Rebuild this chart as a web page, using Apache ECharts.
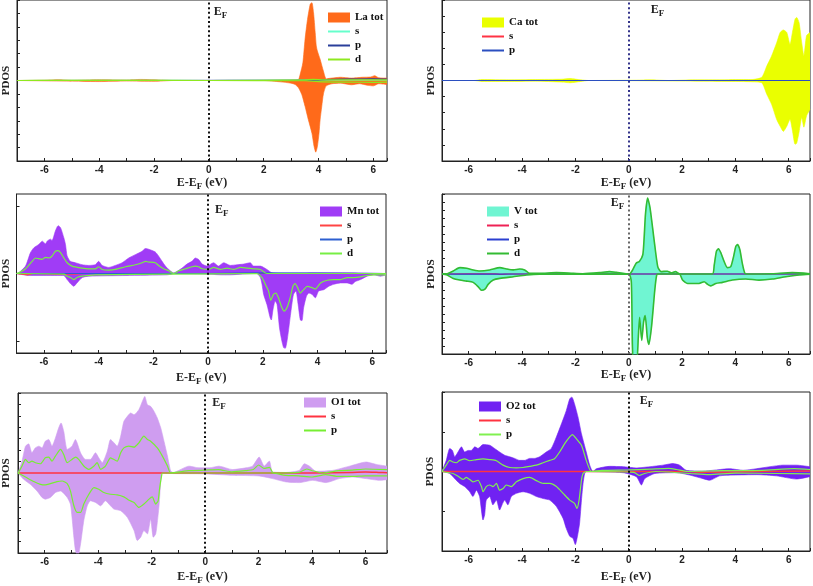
<!DOCTYPE html>
<html><head><meta charset="utf-8">
<script src="https://cdn.jsdelivr.net/npm/echarts@6/dist/echarts.min.js"></script>
<style>html,body{margin:0;padding:0;background:#fff}#c{width:813px;height:586px}</style>
</head><body><div id="c"></div>
<script>
// ---------- La ----------
const laTotUp = [[-7,0],[-6,0.01],[-5.5,0.03],[-5,0.01],[-4,0.03],[-3,0.02],[-2.5,0.04],[-2,0.03],[-1.3,0],[2.5,0],[3.0,0.01],[3.27,0.04],[3.33,0.22],[3.43,0.66],[3.51,1.54],[3.6,2.28],[3.7,2.85],[3.76,2.9],[3.82,2.53],[3.88,1.79],[3.92,1.29],[3.96,1.1],[4.06,0.79],[4.18,0.35],[4.28,0.06],[4.4,0.08],[4.8,0.12],[5.2,0.09],[5.6,0.12],[5.9,0.13],[6.05,0.18],[6.2,0.1],[6.5,0.09]];
const laTotDn = [[-7,0],[-5.5,-0.02],[-4,-0.04],[-3,-0.02],[-2,-0.03],[-1.3,0],[2.0,0],[2.6,-0.05],[3.0,-0.1],[3.15,-0.15],[3.27,-0.27],[3.39,-0.52],[3.51,-0.96],[3.63,-1.46],[3.76,-1.96],[3.84,-2.46],[3.9,-2.67],[3.96,-2.46],[4.02,-1.96],[4.06,-1.46],[4.12,-0.96],[4.18,-0.5],[4.28,-0.2],[4.5,-0.12],[4.8,-0.1],[5.2,-0.16],[5.5,-0.12],[5.8,-0.18],[6.0,-0.2],[6.2,-0.12],[6.5,-0.15]];
const laS = [[-7,0],[-3,0.01],[0,0],[4,0.02],[6.5,0.02]];
const laP = [[-7,0],[-2,0],[3.5,0.01],[4.3,0.03],[5,0.05],[6,0.06],[6.5,0.05]];
const laDUp = [[-7,0],[-5.5,0.01],[-2.5,0.01],[0,0],[3.5,0.02],[3.8,0.04],[4.2,0.02],[5,0.02],[6.5,0.02]];
const laDDn = [[-7,0],[0,0],[3.5,-0.01],[4.2,-0.05],[5,-0.06],[6,-0.07],[6.5,-0.06]];
// ---------- Ca ----------
const caTotUp = [[-7,0],[-5.8,0],[-5.5,0.03],[-4.5,0.02],[-3.5,0.03],[-2.5,0.04],[-2.2,0.06],[-1.8,0.02],[-1.5,0],[0.3,0.01],[0.8,0.02],[1.5,0],[2.5,0.02],[3.5,0.02],[4.0,0.03],[4.62,0.03],[4.99,0.1],[5.18,0.45],[5.36,0.76],[5.55,1.17],[5.68,1.49],[5.8,1.57],[5.93,1.49],[6.05,1.12],[6.14,1.49],[6.24,1.91],[6.3,1.96],[6.39,1.8],[6.49,1.17],[6.57,0.76],[6.67,1.39],[6.8,1.49]];
const caTotDn = [[-7,0],[-5.8,0],[-5.5,-0.03],[-4.5,-0.03],[-3.5,-0.02],[-2.5,-0.05],[-2.2,-0.07],[-1.8,-0.03],[-1.5,0],[2.5,-0.02],[4.0,-0.03],[4.62,-0.04],[4.99,-0.07],[5.18,-0.43],[5.36,-0.74],[5.55,-1.21],[5.68,-1.42],[5.8,-1.58],[5.93,-1.42],[6.05,-1.2],[6.14,-1.55],[6.24,-1.98],[6.3,-1.95],[6.39,-1.6],[6.49,-1.15],[6.57,-1.45],[6.67,-1.1],[6.8,-0.9]];
const caS = [[-7,0],[-3,0],[0,0],[4,0],[6.8,0]];
const caP = [[-7,0],[-3,0],[0,0],[4,0],[6.8,0]];
// ---------- Mn ----------
const mnTotUp = [[-7,0],[-6.92,0.01],[-6.67,0.11],[-6.49,0.31],[-6.37,0.38],[-6.19,0.43],[-6.06,0.48],[-5.94,0.44],[-5.88,0.48],[-5.76,0.51],[-5.7,0.49],[-5.58,0.63],[-5.48,0.71],[-5.39,0.68],[-5.27,0.53],[-5.21,0.43],[-5.15,0.26],[-5.03,0.18],[-4.85,0.16],[-4.6,0.13],[-4.36,0.12],[-4.12,0.13],[-4.0,0.18],[-3.87,0.12],[-3.63,0.09],[-3.39,0.12],[-3.14,0.16],[-2.9,0.23],[-2.66,0.28],[-2.41,0.33],[-2.29,0.37],[-2.17,0.36],[-1.93,0.32],[-1.81,0.26],[-1.68,0.18],[-1.56,0.11],[-1.44,0.06],[-1.26,0.01],[-1.14,0.03],[-0.95,0.08],[-0.77,0.14],[-0.59,0.18],[-0.47,0.23],[-0.35,0.21],[-0.22,0.14],[-0.04,0.11],[0.2,0.16],[0.38,0.11],[0.57,0.16],[0.81,0.12],[1.06,0.13],[1.3,0.14],[1.54,0.16],[1.66,0.11],[1.91,0.11],[2.15,0.06],[2.33,0.01],[2.6,0],[4,0.01],[5,0.01],[6.5,0]];
const mnTotDn = [[-7,0],[-6.9,-0.01],[-6.5,-0.03],[-6,-0.03],[-5.5,-0.03],[-5.27,-0.03],[-5.15,-0.09],[-5.03,-0.15],[-4.91,-0.19],[-4.79,-0.14],[-4.6,-0.06],[-4.36,-0.04],[-3,-0.03],[-1.5,-0.02],[-1.2,0],[0,-0.01],[0.5,-0.02],[0.8,-0.02],[1.2,-0.01],[1.78,0],[1.91,-0.06],[1.97,-0.16],[2.03,-0.31],[2.15,-0.46],[2.21,-0.56],[2.27,-0.66],[2.31,-0.69],[2.37,-0.54],[2.45,-0.41],[2.52,-0.46],[2.61,-0.81],[2.7,-1.01],[2.76,-1.1],[2.82,-1.11],[2.9,-0.96],[2.98,-0.71],[3.06,-0.46],[3.12,-0.31],[3.21,-0.26],[3.29,-0.46],[3.37,-0.69],[3.43,-0.7],[3.49,-0.51],[3.59,-0.34],[3.68,-0.29],[3.8,-0.31],[3.92,-0.36],[4.04,-0.26],[4.23,-0.24],[4.41,-0.19],[4.59,-0.16],[4.84,-0.14],[5.08,-0.14],[5.26,-0.16],[5.38,-0.12],[5.57,-0.09],[5.81,-0.04],[6.06,-0.02],[6.3,-0.04],[6.5,-0.02]];
const mnDUp = [[-7,0],[-6.92,0.01],[-6.67,0.07],[-6.43,0.18],[-6.31,0.23],[-6.19,0.22],[-6.06,0.21],[-5.94,0.24],[-5.82,0.23],[-5.7,0.26],[-5.58,0.33],[-5.48,0.34],[-5.39,0.31],[-5.27,0.23],[-5.15,0.16],[-4.97,0.11],[-4.6,0.08],[-4.36,0.07],[-4.12,0.07],[-4.0,0.1],[-3.87,0.06],[-3.63,0.05],[-3.39,0.06],[-3.02,0.1],[-2.66,0.13],[-2.41,0.16],[-2.29,0.18],[-2.17,0.17],[-1.93,0.16],[-1.81,0.12],[-1.62,0.07],[-1.44,0.04],[-1.26,0],[-1.08,0.04],[-0.83,0.07],[-0.59,0.1],[-0.47,0.11],[-0.35,0.1],[-0.22,0.07],[0.02,0.06],[0.2,0.09],[0.45,0.06],[0.69,0.08],[0.93,0.06],[1.18,0.09],[1.42,0.08],[1.66,0.07],[1.91,0.06],[2.15,0],[6.5,0]];
const mnDDn = [[-7,0],[-5.27,-0.01],[-5.15,-0.04],[-5.03,-0.06],[-4.91,-0.09],[-4.79,-0.06],[-4.6,-0.04],[-4.12,-0.02],[-1.3,-0.01],[1.78,0],[1.97,-0.06],[2.09,-0.16],[2.21,-0.26],[2.29,-0.4],[2.39,-0.31],[2.48,-0.29],[2.57,-0.36],[2.7,-0.51],[2.78,-0.56],[2.88,-0.51],[3.0,-0.36],[3.1,-0.19],[3.18,-0.15],[3.27,-0.21],[3.37,-0.29],[3.49,-0.24],[3.62,-0.19],[3.8,-0.21],[3.92,-0.23],[4.11,-0.14],[4.35,-0.1],[4.59,-0.09],[4.84,-0.09],[5.08,-0.06],[5.32,-0.06],[5.57,-0.05],[5.81,-0.03],[6.06,-0.02],[6.5,-0.02]];
const mnS = [[-7,0],[-6.8,-0.01],[-6.6,-0.02],[-6.4,0],[-5,-0.01],[-4.5,0],[6.5,0]];
const mnP = [[-7,0],[0,0],[2,0.01],[6.5,0]];
// ---------- V ----------
const vTotUp = [[-7,0],[-6.83,0.02],[-6.58,0.38],[-6.33,0.8],[-6.08,0.72],[-5.83,0.51],[-5.58,0.38],[-5.21,0.51],[-4.83,0.8],[-4.58,0.63],[-4.33,0.51],[-4.08,0.63],[-3.9,0.51],[-3.71,0.08],[-3.34,0.08],[-2.71,0.17],[-2.09,0.08],[-1.72,0.04],[-1.09,0.17],[-0.72,0.3],[-0.47,0.21],[-0.1,0.04],[0.03,0],[0.15,0.51],[0.28,1.35],[0.4,1.56],[0.53,2.41],[0.58,4.5],[0.63,7.47],[0.71,9.49],[0.8,8.31],[0.96,4.09],[1.09,0.93],[1.21,0.3],[1.45,0.35],[1.6,0.15],[1.75,0.3],[1.9,0.04],[2.02,0],[3.14,0],[3.21,1.14],[3.29,2.83],[3.37,3.16],[3.46,2.62],[3.58,1.56],[3.7,0.8],[3.83,0.93],[3.92,1.98],[4.02,3.46],[4.08,3.67],[4.17,3.04],[4.26,1.35],[4.36,0.08],[4.51,0],[5.39,0.04],[6.13,0.17],[6.8,0.04]];
const vTotDn = [[-7,0],[-6.83,-0.1],[-6.58,-0.55],[-6.33,-0.76],[-6.08,-0.89],[-5.83,-1.05],[-5.64,-1.6],[-5.52,-2.03],[-5.39,-1.9],[-5.27,-1.3],[-5.08,-0.76],[-4.83,-0.55],[-4.33,-0.34],[-3.83,-0.13],[-3.34,-0.04],[0,0],[0.1,-1],[0.14,-9],[0.18,-11],[0.3,-11],[0.36,-8],[0.41,-5.4],[0.49,-8.3],[0.56,-6],[0.62,-5.2],[0.7,-8],[0.76,-8.8],[0.86,-6.5],[0.98,-2],[1.05,-0.15],[1.1,0],[1.9,0],[2.02,-0.76],[2.21,-1.18],[2.64,-1.18],[2.83,-0.97],[2.96,-1.3],[3.08,-1.48],[3.27,-1.18],[3.52,-1.05],[3.89,-0.76],[4.39,-0.63],[4.89,-0.76],[5.39,-0.63],[5.89,-0.34],[6.39,-0.13],[6.8,-0.04]];
const vS = [[-7,0],[-5,0.02],[-4.8,-0.05],[-4.5,0],[6.8,0]];
const vP = [[-7,0],[-6,-0.02],[-4,0],[6.8,0]];
// ---------- O1 ----------
const o1TotUp = [[-7,0],[-6.97,0.2],[-6.85,1.04],[-6.72,2.35],[-6.6,2.55],[-6.48,1.77],[-6.35,2.2],[-6.22,2.35],[-6.1,2.2],[-5.98,2.78],[-5.85,2.93],[-5.73,2.35],[-5.6,3.07],[-5.48,3.94],[-5.39,4.38],[-5.29,3.65],[-5.16,2.06],[-4.98,2.35],[-4.85,2.93],[-4.79,2.64],[-4.66,1.77],[-4.48,1.19],[-4.29,1.19],[-4.1,1.77],[-3.98,1.33],[-3.85,0.9],[-3.66,1.91],[-3.54,2.93],[-3.41,2.64],[-3.29,2.35],[-3.16,3.22],[-3.04,4.52],[-2.91,4.96],[-2.79,5.25],[-2.66,5.1],[-2.48,5.54],[-2.35,6.26],[-2.26,6.7],[-2.16,5.97],[-2.04,5.83],[-1.91,5.39],[-1.79,4.81],[-1.66,3.94],[-1.54,2.78],[-1.41,1.48],[-1.29,0.17],[-1.2,0.05],[-0.6,0.6],[-0.23,0.45],[0.15,0.45],[0.52,0.6],[1.02,0.3],[1.52,0.45],[1.77,0.6],[2.02,1.39],[2.21,0.6],[2.4,1.04],[2.52,0.1],[3.0,0.05],[3.52,0.23],[3.71,0.81],[3.9,0.6],[4.15,0.15],[4.77,0.23],[5.4,0.6],[6.02,0.96],[6.4,0.75],[6.8,0.6]];
const o1TotDn = [[-7,0],[-6.79,-0.55],[-6.54,-0.99],[-6.29,-1.57],[-6.1,-2.14],[-5.98,-2.29],[-5.79,-2.14],[-5.6,-1.71],[-5.41,-1.57],[-5.16,-2.14],[-5.04,-2.72],[-4.98,-3.88],[-4.91,-5.62],[-4.85,-6.78],[-4.76,-7.3],[-4.66,-6.2],[-4.54,-4.17],[-4.41,-2.87],[-4.29,-2.43],[-4.1,-2.58],[-3.91,-2.87],[-3.73,-2.43],[-3.54,-2.87],[-3.41,-3.16],[-3.16,-3.3],[-2.91,-3.88],[-2.66,-5.04],[-2.54,-5.91],[-2.41,-5.62],[-2.29,-5.04],[-2.16,-5.33],[-2.04,-4.03],[-1.94,-5.62],[-1.85,-5.33],[-1.79,-4.32],[-1.72,-2.72],[-1.66,-0.7],[-1.6,0],[-1.2,-0.05],[0,-0.08],[1.02,-0.2],[2.02,-0.26],[2.52,-0.49],[3.02,-0.78],[3.52,-0.84],[4.02,-0.64],[4.52,-0.84],[5.02,-0.49],[5.52,-0.35],[6.02,-0.49],[6.52,-0.64],[6.8,-0.58]];
const o1PUp = [[-7,0],[-6.97,0.1],[-6.85,0.61],[-6.72,1.19],[-6.6,0.9],[-6.48,1.04],[-6.35,0.9],[-6.16,0.81],[-5.98,1.33],[-5.85,1.39],[-5.73,1.04],[-5.6,1.48],[-5.41,2.06],[-5.29,1.62],[-5.16,0.9],[-4.98,1.19],[-4.85,1.39],[-4.73,1.19],[-4.54,0.61],[-4.35,0.32],[-4.16,0.61],[-4.04,0.9],[-3.91,0.32],[-3.73,0.61],[-3.54,1.33],[-3.29,1.04],[-3.16,1.77],[-3.04,2.2],[-2.85,2.35],[-2.66,2.26],[-2.48,2.64],[-2.29,3.22],[-2.16,2.93],[-2.04,2.78],[-1.79,2.2],[-1.6,1.48],[-1.41,0.61],[-1.29,0],[-0.6,0.2],[0,0.25],[0.5,0.3],[1.0,0.1],[1.5,0.2],[1.8,0.3],[2.0,0.7],[2.2,0.4],[2.4,0.5],[2.55,0],[3.5,0.05],[3.8,0.35],[4.0,0.2],[4.4,0],[5,0.2],[5.5,0.25],[6,0.35],[6.8,0.3]];
const o1PDn = [[-7,0],[-6.72,-0.35],[-6.41,-0.75],[-6.16,-0.99],[-5.98,-1.04],[-5.79,-0.93],[-5.54,-0.75],[-5.35,-0.7],[-5.16,-0.93],[-5.04,-1.57],[-4.91,-2.87],[-4.79,-3.45],[-4.66,-3.45],[-4.54,-2.72],[-4.35,-1.86],[-4.16,-1.28],[-3.98,-1.42],[-3.79,-1.71],[-3.54,-1.86],[-3.29,-1.91],[-3.04,-2.09],[-2.85,-2.38],[-2.66,-2.58],[-2.48,-3.01],[-2.29,-2.72],[-2.1,-2.29],[-1.98,-2.09],[-1.85,-2.72],[-1.76,-2.43],[-1.7,-1.28],[-1.63,-0.26],[-1.6,0],[2.5,0],[3,-0.2],[3.5,-0.25],[4.0,-0.35],[4.5,-0.15],[5,-0.3],[5.5,-0.3],[6,-0.25],[6.8,-0.25]];
const o1S = [[-7,0],[-3,0],[0,0],[4,0],[5.5,0.05],[6,0.08],[6.5,0.05],[6.8,0.03]];
// ---------- O2 ----------
const o2TotUp = [[-7,0],[-6.99,0.02],[-6.84,0.28],[-6.71,0.58],[-6.61,0.53],[-6.52,0.37],[-6.4,0.49],[-6.27,0.62],[-6.15,0.49],[-6.02,0.53],[-5.9,0.53],[-5.77,0.62],[-5.65,0.58],[-5.46,0.68],[-5.21,0.66],[-5.03,0.58],[-4.84,0.49],[-4.65,0.41],[-4.46,0.37],[-4.28,0.33],[-4.09,0.28],[-3.9,0.28],[-3.71,0.33],[-3.53,0.33],[-3.34,0.37],[-3.09,0.49],[-2.9,0.58],[-2.71,0.87],[-2.52,1.2],[-2.34,1.53],[-2.21,1.83],[-2.13,1.87],[-2.03,1.7],[-1.9,1.37],[-1.77,0.95],[-1.59,0.49],[-1.46,0.16],[-1.34,0],[-1.21,0.07],[-0.71,0.13],[-0.21,0.12],[0.29,0.09],[0.79,0.12],[1.29,0.16],[1.66,0.2],[1.91,0.16],[2.16,0.03],[2.79,0.01],[3.79,0.07],[4.29,0.03],[4.79,0.07],[5.29,0.12],[5.79,0.16],[6.29,0.16],[6.8,0.12]];
const o2TotDn = [[-7,0],[-6.71,-0.05],[-6.52,-0.18],[-6.34,-0.3],[-6.15,-0.38],[-5.96,-0.51],[-5.84,-0.63],[-5.71,-0.47],[-5.59,-0.63],[-5.46,-1.22],[-5.4,-1.09],[-5.34,-0.72],[-5.21,-0.63],[-5.09,-0.84],[-4.96,-0.72],[-4.84,-0.97],[-4.75,-0.84],[-4.65,-0.72],[-4.53,-0.84],[-4.4,-0.63],[-4.21,-0.55],[-3.96,-0.51],[-3.71,-0.55],[-3.46,-0.63],[-3.21,-0.68],[-2.96,-0.72],[-2.71,-0.88],[-2.46,-1.18],[-2.34,-1.43],[-2.21,-1.63],[-2.09,-1.68],[-2.0,-1.84],[-1.92,-1.63],[-1.84,-1.3],[-1.77,-0.72],[-1.71,-0.3],[-1.65,-0.05],[-1.59,0],[-0.21,-0.03],[0.29,-0.13],[0.48,-0.34],[0.6,-0.18],[0.98,-0.05],[1.8,-0.03],[2.29,-0.09],[2.79,-0.18],[3.04,-0.22],[3.41,-0.11],[3.91,-0.09],[4.8,-0.08],[5.54,-0.11],[6.29,-0.19],[6.8,-0.13]];
const o2PUp = [[-7,0],[-6.84,0.16],[-6.71,0.28],[-6.59,0.24],[-6.46,0.22],[-6.34,0.28],[-6.15,0.32],[-5.96,0.27],[-5.71,0.3],[-5.46,0.32],[-5.21,0.3],[-4.96,0.27],[-4.71,0.16],[-4.46,0.1],[-4.21,0.09],[-3.96,0.1],[-3.71,0.13],[-3.46,0.16],[-3.21,0.22],[-2.96,0.28],[-2.78,0.32],[-2.59,0.49],[-2.4,0.7],[-2.21,0.87],[-2.11,0.93],[-1.96,0.82],[-1.77,0.66],[-1.59,0.28],[-1.4,0],[-1,0.03],[0,0.04],[0.8,0.06],[1.5,0.08],[1.8,0.05],[2.2,0],[3.5,0.02],[5,0.03],[6.2,0.07],[6.8,0.05]];
const o2PDn = [[-7,0],[-6.59,-0.05],[-6.4,-0.12],[-6.21,-0.2],[-6.09,-0.15],[-5.96,-0.2],[-5.84,-0.26],[-5.65,-0.22],[-5.52,-0.38],[-5.46,-0.51],[-5.34,-0.38],[-5.21,-0.34],[-5.09,-0.38],[-4.96,-0.3],[-4.84,-0.47],[-4.71,-0.43],[-4.59,-0.34],[-4.4,-0.38],[-4.21,-0.26],[-3.96,-0.18],[-3.71,-0.15],[-3.46,-0.23],[-3.21,-0.3],[-2.96,-0.3],[-2.71,-0.38],[-2.46,-0.55],[-2.21,-0.72],[-2.03,-0.8],[-1.94,-0.93],[-1.86,-0.72],[-1.77,-0.22],[-1.71,-0.05],[-1.59,0],[0.2,-0.02],[0.4,-0.1],[0.6,-0.05],[1,0],[2.3,-0.05],[3,-0.08],[4,-0.04],[5.5,-0.05],[6.8,-0.06]];
const o2S = [[-7,0],[-3,0],[0,0],[2,0],[3,-0.02],[5,0],[6.8,0.01]];

// ---------- panel layout & styles ----------
const panels = [
  {key:'La', label:'La tot', tot:[laTotUp, laTotDn], color:'#ff6a1a',
   lines:[{n:'s',c:'#66ffcc',d:[laS]},{n:'p',c:'#2a3f9a',d:[laP]},{n:'d',c:'#8ee820',d:[laDUp,laDDn]}],
   grid:{left:17,top:0,width:370,height:161}, xMax:6.5, y:[-3,3,0.5],
   ef:{c:'#111',dx:5,dy:12}, leg:{left:328,top:12}, gx:14, gy:5},
  {key:'Ca', label:'Ca tot', tot:[caTotUp, caTotDn], color:'#eaff00',
   lines:[{n:'s',c:'#ff3344',d:[caS]},{n:'p',c:'#2b4fc0',d:[caP]}],
   grid:{left:442,top:0,width:369,height:161}, xMax:6.8, y:[-2.5,2.5,0.5],
   ef:{c:'#33338a',dx:22,dy:10}, leg:{left:482,top:17}, gx:14, gy:5.5},
  {key:'Mn', label:'Mn tot', tot:[mnTotUp, mnTotDn], color:'#a03cf6',
   lines:[{n:'s',c:'#ff4444',d:[mnS]},{n:'p',c:'#2d5fd0',d:[mnP]},{n:'d',c:'#77ee44',d:[mnDUp,mnDDn]}],
   grid:{left:16,top:194,width:370,height:159}, xMax:6.5, y:[-1.18,1.18,null], yTicks:[-1,0,1],
   ef:{c:'#111',dx:7,dy:16}, leg:{left:320,top:206}, gx:17, gy:4.5},
  {key:'V', label:'V tot', tot:[vTotUp, vTotDn], color:'#70f5d2',
   lines:[{n:'s',c:'#ee2255',d:[vS]},{n:'p',c:'#2b3fd0',d:[vP]},{n:'d',c:'#33bb33',w:1.6,d:[vTotUp,vTotDn]}],
   grid:{left:442,top:194,width:369,height:160}, xMax:6.8, y:[-10,10,1],
   ef:{c:'#666',dx:-18,dy:9}, leg:{left:487,top:206}, gx:12, gy:5.5},
  {key:'O1', label:'O1 tot', tot:[o1TotUp, o1TotDn], color:'#cf9df0',
   lines:[{n:'s',c:'#ff3340',w:1.5,d:[o1S]},{n:'p',c:'#77ee33',d:[o1PUp,o1PDn]}],
   grid:{left:18,top:393,width:369,height:160}, xMax:6.8, y:[-7,7,1],
   ef:{c:'#111',dx:7,dy:10}, leg:{left:304,top:397}, gx:16, gy:6},
  {key:'O2', label:'O2 tot', tot:[o2TotUp, o2TotDn], color:'#7022f2',
   lines:[{n:'s',c:'#ff3340',w:1.5,d:[o2S]},{n:'p',c:'#80f050',d:[o2PUp,o2PDn]}],
   grid:{left:442,top:392,width:368,height:159}, xMax:6.8, y:[-2,2,1],
   ef:{c:'#111',dx:11,dy:9}, leg:{left:479,top:401}, gx:18, gy:6}
];

const serif = 'Liberation Serif, Times New Roman, serif';
const lineIcon = 'path://M0,0H22V2H0Z';
const chart = echarts.init(document.getElementById('c'), null, {renderer:'canvas'});
const grid=[], xAxis=[], yAxis=[], series=[], legend=[];
panels.forEach((P,i)=>{
  grid.push(Object.assign({show:true, borderColor:'#222', borderWidth:1, containLabel:false}, P.grid));
  xAxis.push({type:'value', gridIndex:i, min:-7, max:P.xMax, interval:1,
    axisLine:{show:true, onZero:false, lineStyle:{color:'#222', width:1}},
    axisTick:{inside:true, length:3, lineStyle:{color:'#222'}},
    axisLabel:{formatter:v=>(Math.round(v)===v && Math.round(v)%2===0 ? String(v) : ''), fontSize:10, fontWeight:'bold', color:'#222', margin:4, fontFamily:'Liberation Sans, Arial, sans-serif'},
    splitLine:{show:false},
    name:'{a|E-E}{f|F}{a| (eV)}', nameLocation:'middle', nameGap:P.gx,
    nameTextStyle:{rich:{
      a:{fontSize:12, fontWeight:'bold', fontFamily:serif, color:'#222', lineHeight:16, verticalAlign:'middle'},
      f:{fontSize:9, fontWeight:'bold', fontFamily:serif, color:'#222', lineHeight:16, verticalAlign:'bottom'}}}
  });
  const ya = {type:'value', gridIndex:i, min:P.y[0], max:P.y[1],
    axisLine:{show:true, onZero:false, lineStyle:{color:'#222', width:1}},
    axisTick:{inside:true, length:3, lineStyle:{color:'#222'}},
    axisLabel:{show:false}, splitLine:{show:false},
    name:'PDOS', nameLocation:'middle', nameGap:P.gy,
    nameTextStyle:{fontSize:11, fontWeight:'bold', fontFamily:serif, color:'#222'}};
  if (P.y[2]) ya.interval = P.y[2];
  if (P.yTicks) ya.axisTick.customValues = P.yTicks;
  yAxis.push(ya);
  const base = {type:'line', xAxisIndex:i, yAxisIndex:i, symbol:'none', showSymbol:false, smooth:0.2, animation:false};
  P.tot.forEach((arr,k)=>{
    const s = Object.assign({}, base, {name:P.label, data:arr, z:2,
      lineStyle:{width:0.6, color:P.color}, itemStyle:{color:P.color}, areaStyle:{color:P.color, opacity:1}});
    if (k===0) s.markLine = {silent:true, symbol:['none','none'], animation:false, label:{show:false},
      lineStyle:{type:[2,2.6], color:P.ef.c, width:2}, data:[{xAxis:0}]};
    series.push(s);
  });
  P.lines.forEach(L=>{
    L.d.forEach(arr=>{
      series.push(Object.assign({}, base, {name:P.key+'|'+L.n, data:arr, z:3,
        lineStyle:{width:L.w||1.2, color:L.c}, itemStyle:{color:L.c}}));
    });
  });
  legend.push({show:true, left:P.leg.left, top:P.leg.top, orient:'vertical', padding:0, itemGap:3,
    itemWidth:22, itemHeight:10, selectedMode:false, symbolKeepAspect:true,
    data:[{name:P.label, icon:'rect'}].concat(P.lines.map(L=>({name:P.key+'|'+L.n, icon:lineIcon}))),
    formatter:n=>n.indexOf('|')>=0 ? n.split('|')[1] : n,
    textStyle:{fontSize:11, fontWeight:'bold', fontFamily:serif, color:'#111'}});
});

chart.setOption({backgroundColor:'#fff', animation:false, grid, xAxis, yAxis, series, legend});

const gfx = panels.map((P,i)=>{
  const x0 = chart.convertToPixel({xAxisIndex:i}, 0);
  return {type:'text', x:x0 + P.ef.dx, y:P.grid.top + P.ef.dy, z:20,
    style:{text:'{e|E}{f|F}', verticalAlign:'middle', rich:{
      e:{fontSize:12, fontWeight:'bold', fontFamily:serif, fill:'#222', lineHeight:16, verticalAlign:'middle'},
      f:{fontSize:9, fontWeight:'bold', fontFamily:serif, fill:'#222', lineHeight:16, verticalAlign:'bottom'}}}};
});
chart.setOption({graphic:gfx});
</script></body></html>
